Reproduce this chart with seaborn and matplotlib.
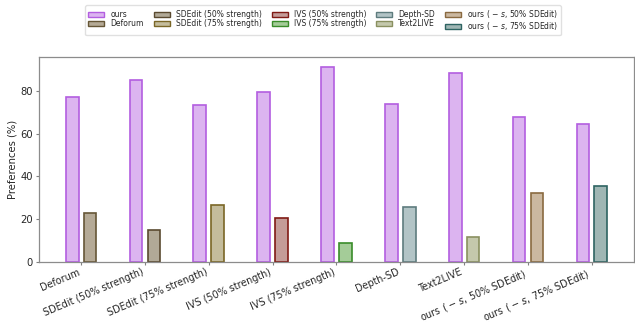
import pandas as pd
import seaborn as sns
import matplotlib.pyplot as plt
from matplotlib.patches import Patch

# Baselines compared against ours in each user study
baselines = ['Deforum', 'SDEdit (50% strength)', 'SDEdit (75% strength)', 'IVS (50% strength)',
             'IVS (75% strength)', 'Depth-SD', 'Text2LIVE',
             'ours ( $-$ $s$, 50% SDEdit)', 'ours ( $-$ $s$, 75% SDEdit)']
ours_pref = [77.0, 85.2, 73.5, 79.3, 91.3, 74.1, 88.2, 67.6, 64.6]
baseline_pref = [23.0, 14.8, 26.5, 20.7, 8.7, 25.9, 11.8, 32.4, 35.4]

# fill / edge colours
ours_face, ours_edge = '#dcb4f0', '#b35ee0'
base_faces = ['#b5aa96', '#b1a997', '#c4bc9c', '#c49c98', '#a4cc98', '#b2c4c6', '#c4c8ac', '#cbb8a0', '#9fb6b4']
base_edges = ['#665636', '#5a4a30', '#7a6626', '#801a14', '#3a8c2a', '#5e7c7e', '#8a9060', '#8a6a40', '#2e6462']

df = pd.DataFrame({
    'Method': baselines * 2,
    'Pref': ours_pref + baseline_pref,
    'Side': ['ours'] * len(baselines) + ['baseline'] * len(baselines),
})

sns.set_style('white')
plt.rcParams['font.family'] = ['DejaVu Sans']

fig, ax = plt.subplots(figsize=(6.35, 3.23), dpi=100)
fig.subplots_adjust(left=0.0614, right=0.9984, top=0.8235, bottom=0.1889)

sns.barplot(data=df, x='Method', y='Pref', hue='Side', hue_order=['ours', 'baseline'],
            order=baselines, width=0.56, gap=0.286, errorbar=None, ax=ax, legend=False)

for bar in ax.containers[0]:
    bar.set_facecolor(ours_face)
    bar.set_edgecolor(ours_edge)
    bar.set_linewidth(1.2)
for bar, fc, ec in zip(ax.containers[1], base_faces, base_edges):
    bar.set_facecolor(fc)
    bar.set_edgecolor(ec)
    bar.set_linewidth(1.2)

ax.set_xlim(-0.66, len(baselines) - 1 + 0.66)
ax.set_xlabel('')
ax.set_ylabel('Preferences (%)', fontsize=7.2, labelpad=2)
ax.set_xticks(range(len(baselines)))
ax.set_xticklabels(baselines, rotation=23, ha='right', fontsize=6.9)
ax.tick_params(axis='y', labelsize=7.2, length=2.5, left=True, color='0.5', pad=2)
ax.tick_params(axis='x', length=2.5, bottom=True, color='0.5', pad=1)
for s in ax.spines.values():
    s.set_color('0.55')
    s.set_linewidth(0.9)

handles = [Patch(facecolor=ours_face, edgecolor=ours_edge, linewidth=1.0, label='ours')]
for name, fc, ec in zip(baselines, base_faces, base_edges):
    handles.append(Patch(facecolor=fc, edgecolor=ec, linewidth=1.0, label=name))
fig.legend(handles=handles, ncol=5, loc='upper center', bbox_to_anchor=(0.509, 0.995),
           fontsize=5.5, frameon=True, edgecolor='0.85', handlelength=2.1, handleheight=0.7,
           columnspacing=1.3, handletextpad=0.8, labelspacing=0.05, borderpad=0.35)

plt.savefig('out.png', dpi=100)
